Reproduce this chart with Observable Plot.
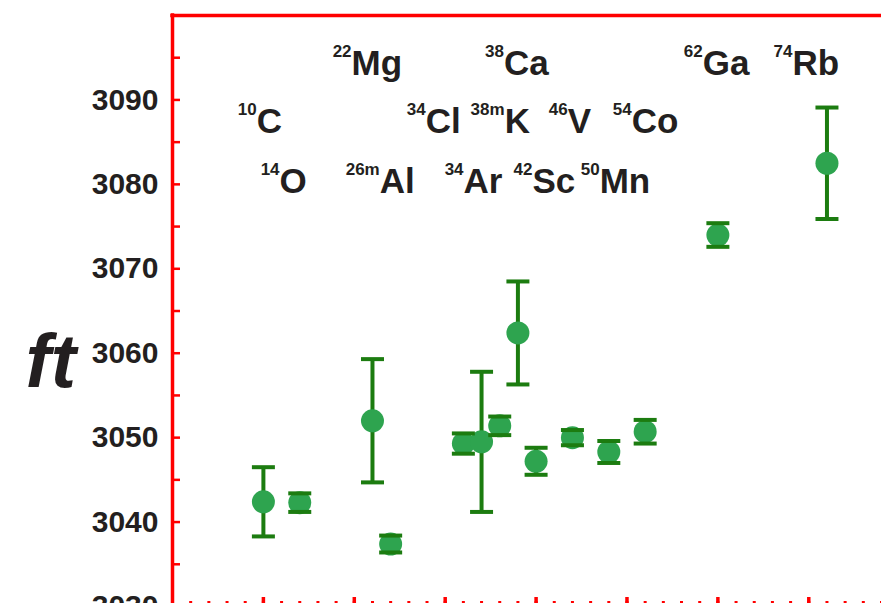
<!DOCTYPE html>
<html><head><meta charset="utf-8">
<script src="https://cdn.jsdelivr.net/npm/d3@7"></script>
<script src="https://cdn.jsdelivr.net/npm/@observablehq/plot@0.6"></script>
<style>
html,body{margin:0;padding:0;overflow:hidden;background:#fff;}
#chart{width:881px;height:603px;overflow:hidden;}
</style></head><body><div id="chart"></div>
<script>
// Superallowed decays: nuclide, daughter Z (x), ft value and its uncertainty
const nuclides  = ["10C","14O","22Mg","26mAl","34Cl","34Ar","38mK","38Ca","42Sc","46V","50Mn","54Co","62Ga","74Rb"];
const daughterZ = [5, 7, 11, 12, 16, 17, 18, 19, 20, 22, 24, 26, 30, 36];
const ftValues  = [3042.4, 3042.3, 3052.0, 3037.4, 3049.3, 3049.5, 3051.4, 3062.4, 3047.2, 3050.0, 3048.3, 3050.7, 3074.0, 3082.5];
const ftErrors  = [4.1, 1.1, 7.3, 1.0, 1.2, 8.3, 1.1, 6.1, 1.6, 0.9, 1.3, 1.4, 1.4, 6.6];

// Isotope labels (mass number superscript + element), placed in data units
const labelMass = ["22","38","62","74","10","34","38m","46","54","14","26m","34","42","50"];
const labelElem = ["Mg","Ca","Ga","Rb","C","Cl","K","V","Co","O","Al","Ar","Sc","Mn"];
const labelZ    = [9.85, 18.23, 29.17, 34.1, 4.63, 13.93, 18.27, 21.74, 25.26, 5.89, 11.4, 16.01, 19.8, 23.5];
const labelFt   = [3092.9, 3092.9, 3092.9, 3092.9, 3086.03, 3086.03, 3086.03, 3086.03, 3086.03, 3078.93, 3078.93, 3078.93, 3078.93, 3078.93];

// Axis ticks
const yTickLabels = [3030, 3040, 3050, 3060, 3070, 3080, 3090];
const yTicks      = [3030, 3035, 3040, 3045, 3050, 3055, 3060, 3065, 3070, 3075, 3080, 3085, 3090, 3095];
const xMinorTicks = d3.range(1, 40);
const xMajorTicks = [5, 10, 15, 20, 25, 30, 35];

const points = nuclides.map((n, i) => ({n, z: daughterZ[i], ft: ftValues[i], lo: ftValues[i] - ftErrors[i], hi: ftValues[i] + ftErrors[i]}));
const labels = labelMass.map((m, i) => ({mass: m, elem: labelElem[i], z: labelZ[i], ft: labelFt[i]}));

const RED = "#ff0000", BAR = "#1c7c10", DOT = "#2ea44f", INK = "#231f20";
const font = "'Liberation Sans', Arial, Helvetica, sans-serif";

const capSymbol = {draw(ctx, size) { const r = Math.sqrt(size / Math.PI); ctx.moveTo(-r, 0); ctx.lineTo(r, 0); }};
const rightTick = {draw(ctx, size) { const r = Math.sqrt(size / Math.PI); ctx.moveTo(0, 0); ctx.lineTo(r, 0); }};
const upTick    = {draw(ctx, size) { const r = Math.sqrt(size / Math.PI); ctx.moveTo(0, 0); ctx.lineTo(0, -r); }};

const chart = Plot.plot({
  width: 881, height: 606,
  marginTop: 15, marginBottom: 0, marginLeft: 172, marginRight: 0,
  style: {fontFamily: font, background: "#fff", overflow: "hidden"},
  x: {domain: [0, 39], axis: null},
  y: {domain: [3030, 3100], axis: null},
  marks: [
    // frame
    Plot.ruleX([0], {stroke: RED, strokeWidth: 3.5, strokeLinecap: "square"}),
    Plot.ruleY([3100], {stroke: RED, strokeWidth: 3.5, strokeLinecap: "square"}),
    // left ticks (inward)
    Plot.dot(yTicks, {y: d => d, frameAnchor: "left", symbol: rightTick, r: 7.5, stroke: RED, strokeWidth: 2.5, fill: "none"}),
    // bottom ticks (inward)
    Plot.dot(xMinorTicks, {x: d => d, frameAnchor: "bottom", symbol: upTick, r: 5.5, stroke: RED, strokeWidth: 3, fill: "none"}),
    Plot.dot(xMajorTicks, {x: d => d, frameAnchor: "bottom", symbol: upTick, r: 9.5, stroke: RED, strokeWidth: 3.5, fill: "none"}),
    // y tick labels
    Plot.text(yTickLabels, {y: d => d, text: d => String(d), frameAnchor: "left", dx: -14, textAnchor: "end",
      fontSize: 30, fontWeight: "bold", fill: INK}),
    // y axis title
    Plot.text(["ft"], {frameAnchor: "left", dx: -147, dy: 76, textAnchor: "start", lineAnchor: "bottom",
      fontSize: 76, fontWeight: "bold", fontStyle: "italic", fill: INK}),
    // isotope labels
    Plot.text(labels, {x: "z", y: "ft", text: "mass", textAnchor: "end", lineAnchor: "bottom", dy: -18,
      fontSize: 17, fontWeight: "bold", fill: INK}),
    Plot.text(labels, {x: "z", y: "ft", text: "elem", textAnchor: "start", lineAnchor: "bottom",
      fontSize: 35, fontWeight: "bold", fill: INK}),
    // error bars
    Plot.ruleX(points, {x: "z", y1: "lo", y2: "hi", stroke: BAR, strokeWidth: 4}),
    Plot.dot(points, {x: "z", y: "ft", r: 11.5, fill: DOT, stroke: "none"}),
    Plot.dot(points, {x: "z", y: "hi", symbol: capSymbol, r: 11.5, stroke: BAR, strokeWidth: 4, fill: "none"}),
    Plot.dot(points, {x: "z", y: "lo", symbol: capSymbol, r: 11.5, stroke: BAR, strokeWidth: 4, fill: "none"})
  ]
});
document.getElementById("chart").appendChild(chart);
</script>
</body></html>
